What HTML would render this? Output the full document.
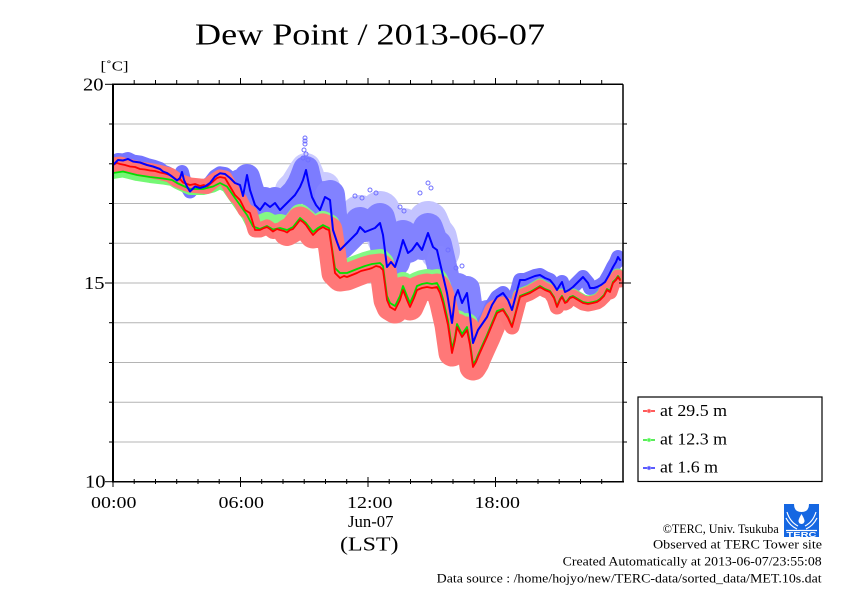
<!DOCTYPE html>
<html><head><meta charset="utf-8"><style>
html,body{margin:0;padding:0;background:#fff;}
svg{display:block;}
text{font-family:"Liberation Serif",serif;fill:#000;}
</style></head><body>
<svg width="842" height="595" viewBox="0 0 842 595" xmlns="http://www.w3.org/2000/svg">
<rect width="842" height="595" fill="#fff"/>
<text x="195" y="44.5" font-size="31" textLength="350" lengthAdjust="spacingAndGlyphs">Dew Point / 2013-06-07</text>
<text x="100.5" y="70.5" font-size="14" textLength="28" lengthAdjust="spacingAndGlyphs">[˚C]</text>

<g stroke="#b4b4b4" stroke-width="1">
<line x1="113" x2="623" y1="124" y2="124"/>
<line x1="113" x2="623" y1="163.8" y2="163.8"/>
<line x1="113" x2="623" y1="203.5" y2="203.5"/>
<line x1="113" x2="623" y1="243.3" y2="243.3"/>
<line x1="113" x2="623" y1="283" y2="283"/>
<line x1="113" x2="623" y1="322.7" y2="322.7"/>
<line x1="113" x2="623" y1="362.5" y2="362.5"/>
<line x1="113" x2="623" y1="402.2" y2="402.2"/>
<line x1="113" x2="623" y1="442" y2="442"/>
</g>

<defs>
<path id="red" d="M113,165 L117,163 120,164 125,165 130,166.5 135,167 140,169 145,169.5 150,170.5 155,171 160,172.5 165,173.5 170,175 177,180 180,179 183,182.5 187,184 190,185 195,184 200,186 204,185 207,186.5 213,181.5 217,178 220,177 225,178 230,186.5 235,195 240,200 245,210 250,213 255,230 260,230 264,228 267,227 270,229 273,231.5 277,229 280,230 284,231 287,232.5 290,230 293,229 297,224 300,220 303,222 306,225 310,231 313,235 318,230 323,227 326,229 329,230 332,250 335,273 340,278 344,276 347,277 352,275 357,273 361,271 365,270 369,269 372,268 376,266 380,267 383,270 387,300 390,307 395,310 400,300 403,290 407,300 410,307 414,298 417,290 422,288 427,287 432,288 437,287 440,293 443,303 448,325 452,353 455,340 457,327 462,337 467,330 470,345 473,367 476,362 478,357 482,348 487,337 492,325 497,313 503,310 508,318 512,327 516,312 520,297 525,295 530,293 535,290 540,287 545,290 550,292 554,298 557,307 560,300 562,297 565,303 567,302 570,298 573,297 578,300 583,303 588,304 593,303 597,302 600,300 604,296 607,290 610,292 613,283 616,280 618,277 620,280"/>
<path id="green" d="M113,173 L123,171.5 137,175 150,177 163,178.5 172,180 177,183 190,189 203,189 213,186.5 220,183 227,186.5 235,198 240,205 247,215 253,226.5 260,229 267,226 273,229.5 280,228 287,230 293,227 300,218 306,223 313,232 318,228 323,225 329,228 332,248 335,268 340,273 347,273 357,269 365,266 372,264 380,263 383,266 387,296 390,303 395,306 400,296 403,286 407,296 410,303 414,294 417,286 422,284 427,283 432,284 437,283 440,289 443,299 448,321 452,349 455,337 457,324 462,334 467,327 470,342 473,364 476,360 478,355 482,346 487,335 492,323 497,311 503,309 508,317 512,326 516,311 520,296 525,294 530,292 535,289 540,286 545,289 550,291 554,297 557,306 560,299 562,296 565,302 567,301 570,297 573,296 578,299 583,302 588,303 593,302 597,301 600,299 604,295 607,289 610,291 613,282 616,279 618,276 620,279"/>
<path id="blue" d="M113,165 L118,160 123,160.5 128,159 133,161.5 140,162.5 147,165 153,166.5 160,169 163,171.5 167,173 172,176.5 177,180.5 180,178 182,172 184,180 187,186.5 190,191.5 195,186.5 200,188 205,186.5 210,183 215,176.5 220,173.3 225,174 230,178 235,183 240,185 243,196 247,175 250,190 255,205 260,210 265,203 270,207 275,203 280,210 285,205 290,200 295,195 300,187 303,180 306,170 309,185 312,197 316,205 320,210 325,197 330,200 333,230 337,242 340,250 344,246 347,243 352,238 357,233 360,227 365,232 370,230 375,228 380,223 383,235 387,267 391,262 395,267 399,255 403,240 408,253 412,250 417,243 422,250 428,233 433,247 437,250 440,263 447,293 452,323 455,297 458,290 462,303 467,293 470,315 473,343 478,330 487,317 492,305 497,297 503,293 508,300 512,310 516,295 520,280 525,280 530,278 535,276 540,275 545,278 550,280 554,285 557,290 560,285 562,282 565,292 569,290 573,287 578,282 583,277 588,283 590,288 594,288 597,287 601,285 605,282 609,275 613,267 616,262 618,257 620,260"/>
<clipPath id="plot"><rect x="113" y="84" width="510" height="398"/></clipPath>
</defs>

<g clip-path="url(#plot)" fill="none" stroke-linejoin="round" stroke-linecap="round">
<!-- blue cloud -->
<path transform="translate(0,-12)" d="M337,242 L340,250 344,246 347,243 352,238 357,233 360,227 365,232 370,230 375,228 380,223 383,235 387,250 391,250 395,250 399,245 403,240 408,245 412,245 417,243 422,245 428,233 433,245 437,250 440,263" stroke="#c4c4ff" stroke-width="40"/>
<path transform="translate(0,-10)" d="M290,200 L295,195 300,187 303,182 306,178 309,185 312,197 316,205 320,210 325,197" stroke="#cbcbff" stroke-width="30"/>
<path d="M113,165 L118,160 123,160.5 128,159 133,161.5 140,162.5 147,165 153,166.5 160,169 163,171.5 167,173 172,176.5 177,180.5 180,178 182,172 184,180 187,186.5 190,191.5 195,186.5 200,188 205,186.5 210,183 215,176.5 220,173.3 225,174 230,178 235,183 240,185 243,196" stroke="#7474ff" stroke-width="14"/>
<path transform="translate(0,-3)" d="M240,185 L243,196 247,180 250,190 255,205 260,210 265,203 270,207 275,203 280,210 285,205 290,200 295,195 300,187 303,180 306,172 309,185 312,197 316,205 320,210 325,197 330,200 333,230" stroke="#7c7cff" stroke-width="26"/>
<path transform="translate(0,-5)" d="M330,200 L333,230 337,242 340,250 344,246 347,243 352,238 357,233 360,227 365,232 370,230 375,228 380,223 383,235 387,267 391,262 395,267 399,255 403,240 408,253 412,250 417,243 422,250 428,233 433,247 437,250 440,263 445,285" stroke="#8282ff" stroke-width="30"/>
<path transform="translate(0,-4)" d="M440,263 L447,293 452,323 455,297 458,290 462,303 467,293 470,315 473,343 478,330 487,317" stroke="#8484ff" stroke-width="26"/>
<path d="M478,330 L487,317 492,305 497,297 503,293 508,300 512,310 516,295 520,280 525,280 530,278 535,276 540,275 545,278 550,280 554,285 557,290 560,285 562,282 565,292 569,290 573,287 578,282 583,277 588,283 590,288 594,288 597,287 601,285 605,282 609,275 613,267 616,262 618,257 620,260" stroke="#7474ff" stroke-width="14"/>
<g stroke="#7070ff" stroke-width="1" fill="none">
<circle cx="305" cy="138" r="2"/><circle cx="305" cy="141" r="2"/><circle cx="305" cy="144" r="2"/><circle cx="304" cy="150" r="2"/><circle cx="306" cy="154" r="2"/><circle cx="303" cy="158" r="2"/><circle cx="308" cy="160" r="2"/>
<circle cx="355" cy="196" r="2"/><circle cx="362" cy="198" r="2"/><circle cx="370" cy="190" r="2"/><circle cx="376" cy="193" r="2"/><circle cx="400" cy="207" r="2"/><circle cx="404" cy="211" r="2"/><circle cx="420" cy="193" r="2"/><circle cx="428" cy="183" r="2"/><circle cx="431" cy="188" r="2"/><circle cx="448" cy="250" r="2"/><circle cx="456" cy="268" r="2"/><circle cx="462" cy="266" r="2"/>
</g>
<!-- green cloud -->
<path d="M113,173 L123,171.5 137,175 150,177 163,178.5 172,180 177,183 190,189 203,189 213,186.5 220,183 227,186.5 235,198 240,205 247,215 253,226.5 260,229 267,226" stroke="#74f874" stroke-width="12"/>
<path transform="translate(0,-3)" d="M260,229 L267,226 273,229.5 280,228 287,230 293,227 300,218 306,223 313,232 318,228 323,225 329,228 332,248 335,268 340,273 347,273 357,269 365,266 372,264 380,263 383,266 387,296 390,303 395,306 400,296 403,286 407,296 410,303 414,294 417,286 422,284 427,283 432,284 437,283 440,289 443,299 448,321 452,349 455,337 457,324 462,334 467,327 470,342 473,364 476,360 478,355 482,346 487,335" stroke="#84f884" stroke-width="22"/>
<path d="M482,346 L487,335 492,323 497,311 503,309 508,317 512,326 516,311 520,296 525,294 530,292 535,289 540,286 545,289 550,291 554,297 557,306 560,299 562,296 565,302 567,301 570,297 573,296 578,299 583,302 588,303 593,302 597,301 600,299 604,295 607,289 610,291 613,282 616,279 618,276 620,279" stroke="#74f874" stroke-width="15"/>
<!-- red cloud -->
<path d="M113,165 L120,164 130,166.5 140,169 150,170.5 160,172.5 170,175 177,180 183,182.5 190,185 200,186 207,186.5 213,181.5 220,177 225,178 230,186.5 235,195 240,200 245,210 250,213 255,230 260,230 267,227 273,231.5 280,230 287,232.5 293,229" stroke="#ff7474" stroke-width="15"/>
<path d="M287,232.5 L293,229 300,220 306,225 313,235 318,230 323,227 329,230 332,250 335,273 340,278 347,277 357,273 365,270 372,268 380,267 383,270 387,300 390,307 395,310 400,300 403,290 407,300 410,307 414,298 417,290 422,288 427,287 432,288 437,287 440,293 443,303 448,325 452,353 455,340 457,327 462,337 467,330 470,345 473,367 476,362 478,357 482,348 487,337 492,325 497,313 503,310" stroke="#ff7878" stroke-width="27"/>
<path d="M497,313 L503,310 508,318 512,327 516,312 520,297 525,295 530,293 535,290 540,287 545,290 550,292 554,298 557,307 560,300 562,297 565,303 567,302 570,298 573,297 578,300 583,303 588,304 593,303 597,302 600,300 604,296 607,290 610,292 613,283 616,280 618,277 620,280" stroke="#ff7474" stroke-width="15"/>
<use href="#green" stroke="#00e000" stroke-width="1.8"/>
<use href="#red" stroke="#ff0000" stroke-width="1.8"/>
<use href="#blue" stroke="#0000ff" stroke-width="2"/>
</g>

<g stroke="#000" fill="none">
<line x1="113" y1="84.3" x2="113" y2="481.7" stroke-width="2"/>
<line x1="112" y1="84.3" x2="623" y2="84.3" stroke-width="1.5"/>
<line x1="112" y1="481.7" x2="624" y2="481.7" stroke-width="1.5"/>
<line x1="623" y1="84.3" x2="623" y2="481.7" stroke-width="1.5"/>
</g>
<g stroke="#000" stroke-width="1">
<line x1="105" x2="113" y1="84.3" y2="84.3"/><line x1="105" x2="113" y1="283" y2="283"/><line x1="105" x2="113" y1="481.7" y2="481.7"/>
<line x1="109" x2="113" y1="124" y2="124"/><line x1="109" x2="113" y1="163.8" y2="163.8"/><line x1="109" x2="113" y1="203.5" y2="203.5"/><line x1="109" x2="113" y1="243.3" y2="243.3"/><line x1="109" x2="113" y1="322.7" y2="322.7"/><line x1="109" x2="113" y1="362.5" y2="362.5"/><line x1="109" x2="113" y1="402.2" y2="402.2"/><line x1="109" x2="113" y1="442" y2="442"/>
<line x1="619" x2="631" y1="283" y2="283"/>
<line x1="623" x2="627" y1="124" y2="124"/><line x1="623" x2="627" y1="163.8" y2="163.8"/><line x1="623" x2="627" y1="203.5" y2="203.5"/><line x1="623" x2="627" y1="243.3" y2="243.3"/><line x1="623" x2="627" y1="322.7" y2="322.7"/><line x1="623" x2="627" y1="362.5" y2="362.5"/><line x1="623" x2="627" y1="402.2" y2="402.2"/><line x1="623" x2="627" y1="442" y2="442"/>
<line x1="134.2" x2="134.2" y1="80" y2="84"/><line x1="155.5" x2="155.5" y1="80" y2="84"/><line x1="176.7" x2="176.7" y1="80" y2="84"/><line x1="198" x2="198" y1="80" y2="84"/><line x1="219.2" x2="219.2" y1="80" y2="84"/><line x1="240.5" x2="240.5" y1="78" y2="84"/>
<line x1="261.7" x2="261.7" y1="80" y2="84"/><line x1="283" x2="283" y1="80" y2="84"/><line x1="304.2" x2="304.2" y1="80" y2="84"/><line x1="325.5" x2="325.5" y1="80" y2="84"/><line x1="346.7" x2="346.7" y1="80" y2="84"/><line x1="368" x2="368" y1="78" y2="84"/>
<line x1="389.2" x2="389.2" y1="80" y2="84"/><line x1="410.5" x2="410.5" y1="80" y2="84"/><line x1="431.7" x2="431.7" y1="80" y2="84"/><line x1="453" x2="453" y1="80" y2="84"/><line x1="474.2" x2="474.2" y1="80" y2="84"/><line x1="495.5" x2="495.5" y1="78" y2="84"/>
<line x1="516.7" x2="516.7" y1="80" y2="84"/><line x1="538" x2="538" y1="80" y2="84"/><line x1="559.2" x2="559.2" y1="80" y2="84"/><line x1="580.5" x2="580.5" y1="80" y2="84"/><line x1="601.7" x2="601.7" y1="80" y2="84"/>
<line x1="113" x2="113" y1="477" y2="487"/>
<line x1="134.2" x2="134.2" y1="479" y2="484"/><line x1="155.5" x2="155.5" y1="479" y2="484"/><line x1="176.7" x2="176.7" y1="479" y2="484"/><line x1="198" x2="198" y1="479" y2="484"/><line x1="219.2" x2="219.2" y1="479" y2="484"/><line x1="240.5" x2="240.5" y1="477" y2="487"/>
<line x1="261.7" x2="261.7" y1="479" y2="484"/><line x1="283" x2="283" y1="479" y2="484"/><line x1="304.2" x2="304.2" y1="479" y2="484"/><line x1="325.5" x2="325.5" y1="479" y2="484"/><line x1="346.7" x2="346.7" y1="479" y2="484"/><line x1="368" x2="368" y1="477" y2="487"/>
<line x1="389.2" x2="389.2" y1="479" y2="484"/><line x1="410.5" x2="410.5" y1="479" y2="484"/><line x1="431.7" x2="431.7" y1="479" y2="484"/><line x1="453" x2="453" y1="479" y2="484"/><line x1="474.2" x2="474.2" y1="479" y2="484"/><line x1="495.5" x2="495.5" y1="477" y2="487"/>
<line x1="516.7" x2="516.7" y1="479" y2="484"/><line x1="538" x2="538" y1="479" y2="484"/><line x1="559.2" x2="559.2" y1="479" y2="484"/><line x1="580.5" x2="580.5" y1="479" y2="484"/><line x1="601.7" x2="601.7" y1="479" y2="484"/>
</g>

<text x="83" y="90.5" font-size="17.5" textLength="20.5" lengthAdjust="spacingAndGlyphs">20</text>
<text x="84" y="289" font-size="17.5" textLength="20.5" lengthAdjust="spacingAndGlyphs">15</text>
<text x="85" y="487.5" font-size="17.5" textLength="20.5" lengthAdjust="spacingAndGlyphs">10</text>
<text x="91" y="508" font-size="17" textLength="45.5" lengthAdjust="spacingAndGlyphs">00:00</text>
<text x="218.5" y="508" font-size="17" textLength="45.5" lengthAdjust="spacingAndGlyphs">06:00</text>
<text x="347" y="508" font-size="17" textLength="45.5" lengthAdjust="spacingAndGlyphs">12:00</text>
<text x="474.5" y="508" font-size="17" textLength="45.5" lengthAdjust="spacingAndGlyphs">18:00</text>
<text x="348" y="527" font-size="17" textLength="45.5" lengthAdjust="spacingAndGlyphs">Jun-07</text>
<text x="340" y="550.5" font-size="20" textLength="58.5" lengthAdjust="spacingAndGlyphs">(LST)</text>

<rect x="638" y="397" width="184" height="84.5" fill="#fff" stroke="#000" stroke-width="1.2"/>
<g stroke-width="1.3">
<line x1="643" x2="655" y1="411" y2="411" stroke="#ff0000"/><circle cx="649" cy="411" r="1.5" fill="none" stroke="#ff8080"/>
<line x1="643" x2="655" y1="440" y2="440" stroke="#00e000"/><circle cx="649" cy="440" r="1.5" fill="none" stroke="#80ff80"/>
<line x1="643" x2="655" y1="468" y2="468" stroke="#0000ff"/><circle cx="649" cy="468" r="1.5" fill="none" stroke="#8080ff"/>
</g>
<text x="660" y="416" font-size="16.5" textLength="67" lengthAdjust="spacingAndGlyphs">at 29.5 m</text>
<text x="660" y="444.5" font-size="16.5" textLength="67" lengthAdjust="spacingAndGlyphs">at 12.3 m</text>
<text x="660" y="472.5" font-size="16.5" textLength="58" lengthAdjust="spacingAndGlyphs">at 1.6 m</text>

<g transform="translate(784,504)">
<rect width="35" height="33" fill="#1567e2"/>
<path d="M10,0 Q10,8 17.5,8 Q25,8 25,0 Z" fill="#fff"/>
<path d="M17.5,10 Q14.5,15 14.5,17 A3,3 0 0 0 20.5,17 Q20.5,15 17.5,10 Z" fill="#fff"/>
<g stroke="#fff" stroke-width="1.2" fill="none">
<path d="M3,8 Q6,18 14,22"/><path d="M32,8 Q29,18 21,22"/>
<path d="M2,14 Q6,22 13,25"/><path d="M33,14 Q29,22 22,25"/>
<line x1="2" y1="26.5" x2="33" y2="26.5"/>
</g>
<text x="2.5" y="33" font-size="7.5" font-weight="bold" textLength="30" lengthAdjust="spacingAndGlyphs" style="fill:#fff;font-family:'Liberation Sans',sans-serif">TERC</text>
</g>

<text x="662.7" y="533" font-size="12.5" textLength="116" lengthAdjust="spacingAndGlyphs">©TERC, Univ. Tsukuba</text>
<text x="653" y="548.5" font-size="12.5" textLength="169" lengthAdjust="spacingAndGlyphs">Observed at TERC Tower site</text>
<text x="562.7" y="565.5" font-size="12.5" textLength="259" lengthAdjust="spacingAndGlyphs">Created Automatically at 2013-06-07/23:55:08</text>
<text x="436.7" y="582.5" font-size="12.5" textLength="385" lengthAdjust="spacingAndGlyphs">Data source : /home/hojyo/new/TERC-data/sorted_data/MET.10s.dat</text>
</svg>
</body></html>
